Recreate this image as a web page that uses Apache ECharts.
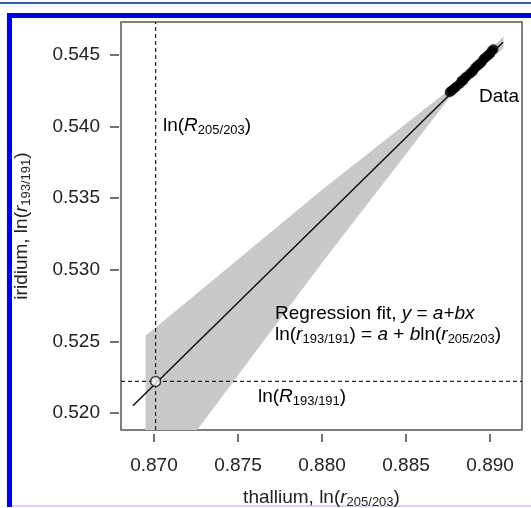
<!DOCTYPE html>
<html>
<head>
<meta charset="utf-8">
<script src="https://cdn.jsdelivr.net/npm/echarts@6/dist/echarts.min.js"></script>
<style>
  html, body { margin: 0; padding: 0; background: #fff; }
  #chart { width: 531px; height: 508px; }
</style>
</head>
<body>
<div id="chart"></div>
<script>
// data
var xTicks = [0.870, 0.875, 0.880, 0.885, 0.890];
var yTicks = [0.520, 0.525, 0.530, 0.535, 0.540, 0.545];

// measured points (thallium, iridium)
var dataX = [0.8876, 0.8877, 0.8878, 0.8879, 0.8880, 0.8882, 0.8883, 0.8884, 0.8885, 0.8886, 0.8888, 0.8889,
             0.8890, 0.8891, 0.8892, 0.8893, 0.8894, 0.8895, 0.8896, 0.8897, 0.8898, 0.8899, 0.8900, 0.8901, 0.8902];
var dataY = [0.5424, 0.5425, 0.5426, 0.5427, 0.5428, 0.5430, 0.5432, 0.5432, 0.5434, 0.5435, 0.5437, 0.5438,
             0.5439, 0.5441, 0.5442, 0.5443, 0.5444, 0.5445, 0.5447, 0.5448, 0.5449, 0.5450, 0.5451, 0.5453, 0.5454];

// regression line ends
var fitX = [0.86875, 0.89077];
var fitY = [0.5205, 0.5459];

// confidence band
var bandX = [0.8695, 0.8725, 0.8800, 0.8877, 0.8908];
var bandLo = [0.5139, 0.5187, 0.5305, 0.5422, 0.5455];
var bandHi = [0.5254, 0.5283, 0.5356, 0.5427, 0.5463];

// intercept point ln(R205/203), ln(R193/191)
var refX = 0.8701;
var refY = 0.5222;

var xMin = 0.86804, xMax = 0.8919;
var yMin = 0.51881, yMax = 0.54731;

var font = 'Liberation Sans, Arial, sans-serif';
var txt = '#222';

var rich = {
    n: { fontSize: 19, fontFamily: font, color: txt },
    i: { fontSize: 19, fontFamily: font, color: txt, fontStyle: 'italic' },
    s: { fontSize: 13, fontFamily: font, color: txt, padding: [10, 0, 0, 0] }
};

var chart = echarts.init(document.getElementById('chart'));

var bandPoly = [];
for (var k = 0; k < bandX.length; k++) bandPoly.push([bandX[k], bandHi[k]]);
for (var k = bandX.length - 1; k >= 0; k--) bandPoly.push([bandX[k], bandLo[k]]);

var pts = dataX.map(function (x, i) { return [x, dataY[i]]; });

var option = {
    animation: false,
    backgroundColor: '#fff',
    grid: {
        left: 121, right: 9, top: 22, bottom: 78,
        outerBoundsMode: 'none',
        show: true, borderColor: '#555', borderWidth: 1.5, backgroundColor: '#fff'
    },
    xAxis: {
        type: 'value', min: xMin, max: xMax, offset: 4,
        axisLine: { show: false },
        splitLine: { show: false },
        axisTick: { show: true, length: 8, customValues: xTicks, lineStyle: { color: '#444', width: 1.5 } },
        axisLabel: {
            customValues: xTicks, margin: 22, fontSize: 19, fontFamily: font, color: txt,
            formatter: function (v) { return v.toFixed(3); }
        },
        name: '{n|thallium, ln(}{i|r}{s|205/203}{n|)}',
        nameLocation: 'middle', nameGap: 52,
        nameTextStyle: { rich: rich }
    },
    yAxis: {
        type: 'value', min: yMin, max: yMax, offset: 2,
        axisLine: { show: false },
        splitLine: { show: false },
        axisTick: { show: true, length: 9, customValues: yTicks, lineStyle: { color: '#444', width: 1.5 } },
        axisLabel: {
            customValues: yTicks, margin: 19, fontSize: 19, fontFamily: font, color: txt,
            formatter: function (v) { return v.toFixed(3); }
        },
        name: '{n|iridium, ln(}{i|r}{s|193/191}{n|)}',
        nameLocation: 'middle', nameGap: 86,
        nameTextStyle: { rich: rich }
    },
    series: [
        {
            // confidence band
            type: 'custom',
            clip: true,
            silent: true,
            z: 1,
            data: [0],
            renderItem: function (params, api) {
                var points = bandPoly.map(function (p) { return api.coord(p); });
                return {
                    type: 'polygon',
                    shape: { points: points },
                    style: { fill: '#c9c9c9', stroke: null }
                };
            }
        },
        {
            // regression fit
            type: 'line',
            z: 3,
            symbol: 'none',
            data: fitX.map(function (x, i) { return [x, fitY[i]]; }),
            lineStyle: { color: '#111', width: 1.5 }
        },
        {
            // dashed reference lines
            type: 'line',
            z: 2,
            symbol: 'none',
            data: [[refX, yMin], [refX, yMax]],
            lineStyle: { color: '#222', width: 1.2, type: [4, 3] }
        },
        {
            type: 'line',
            z: 2,
            symbol: 'none',
            data: [[xMin, refY], [xMax, refY]],
            lineStyle: { color: '#222', width: 1.2, type: [4, 3] }
        },
        {
            // measurements
            type: 'scatter',
            z: 4,
            symbolSize: 10,
            data: pts,
            itemStyle: { color: '#000' }
        },
        {
            // intercept
            type: 'scatter',
            z: 5,
            symbolSize: 10,
            data: [[refX, refY]],
            itemStyle: { color: '#fff', borderColor: '#111', borderWidth: 1.5 }
        }
    ],
    graphic: [
        { type: 'rect', z: -1, shape: { x: 0, y: 2, width: 531, height: 2 }, style: { fill: '#2a62ad' } },
        { type: 'rect', z: -1, shape: { x: 7, y: 13, width: 524, height: 5 }, style: { fill: '#0000f0' } },
        { type: 'rect', z: -1, shape: { x: 7, y: 13, width: 5, height: 494 }, style: { fill: '#0000f0' } },
        { type: 'rect', z: -1, shape: { x: 12, y: 505, width: 519, height: 2 }, style: { fill: '#d4d4f6' } },
        {
            type: 'text', left: 163, top: 116, z: 10,
            style: { text: '{n|ln(}{i|R}{s|205/203}{n|)}', rich: rich }
        },
        {
            type: 'text', left: 479, top: 87, z: 10,
            style: { text: '{n|Data}', rich: rich }
        },
        {
            type: 'text', left: 275, top: 304, z: 10,
            style: {
                text: '{n|Regression fit, }{i|y}{n| = }{i|a}{n|+}{i|bx}\n{n|ln(}{i|r}{s|193/191}{n|) = }{i|a}{n| + }{i|b}{n|ln(}{i|r}{s|205/203}{n|)}',
                rich: rich
            }
        },
        {
            type: 'text', left: 258, top: 387, z: 10,
            style: { text: '{n|ln(}{i|R}{s|193/191}{n|)}', rich: rich }
        }
    ]
};

chart.setOption(option);
</script>
</body>
</html>
